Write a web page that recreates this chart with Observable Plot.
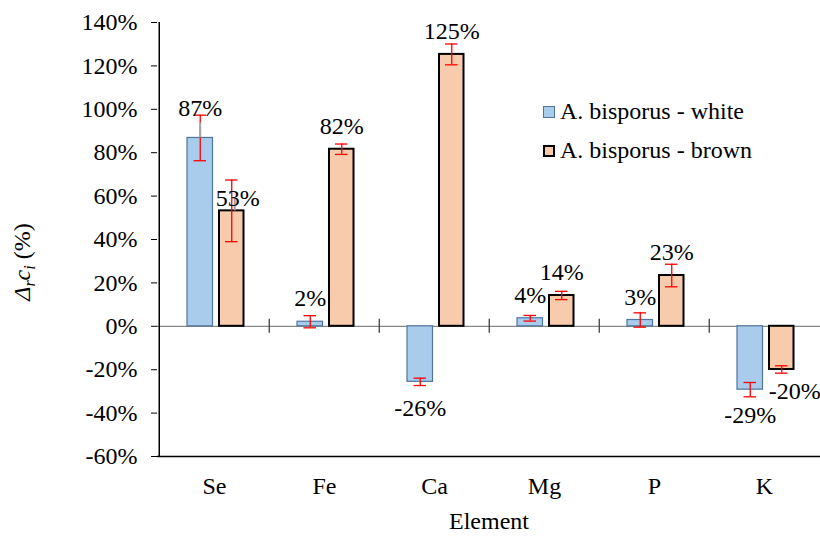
<!DOCTYPE html>
<html><head><meta charset="utf-8">
<script src="https://cdn.jsdelivr.net/npm/d3@7"></script>
<script src="https://cdn.jsdelivr.net/npm/@observablehq/plot@0.6"></script>
<style>
body{margin:0;background:#fff;}
#wrap{position:relative;width:820px;height:537px;overflow:hidden;}
#wrap svg text, .legend{font-family:"Liberation Serif","Times New Roman",Times,"DejaVu Serif",serif !important;}
.legend{position:absolute;left:543px;top:92px;font-size:24px;color:#000;}
.row{display:flex;align-items:center;height:39px;}
.sw{width:12px;height:12px;margin-right:5px;box-sizing:border-box;}
</style></head><body><div id="wrap"></div>
<script>
// ---- data ----
const elements = ["Se", "Fe", "Ca", "Mg", "P", "K"];
const series = ["A. bisporus - white", "A. bisporus - brown"];
const whiteValues = [86.8, 2.1, -25.6, 3.7, 2.9, -29.2];
const brownValues = [53.2, 81.6, 125.3, 14.2, 23.4, -19.9];
const whiteErrors = [10.5, 2.8, 1.7, 1.3, 3.3, 3.3];
const brownErrors = [14.2, 2.4, 4.8, 1.9, 5.2, 1.7];
const yTicks = [-60, -40, -20, 0, 20, 40, 60, 80, 100, 120, 140];

// ---- layout / style ----
const W = 820, H = 537, mL = 157, mR = 0, mT = 22, mB = 81;
const bw = (W - mL - mR) / elements.length;
const FONT = "Liberation Serif, Times New Roman, DejaVu Serif, serif";
const geom = { // bar placement inside each band (px)
  [series[0]]: {l: 28, r: 54, fill: "#A9CBEC", stroke: "#4F76A0", sw: 1.2},
  [series[1]]: {l: 60, r: 85, fill: "#F8CBAD", stroke: "#000000", sw: 2}
};
const capW = 13;
const nudge = { // manual label nudges (px) + leader line length, like the hand-placed labels
  ["Se|" + series[0]]: {dx: 0, dy: -7, leader: 15, ldx: 0},
  ["Se|" + series[1]]: {dx: 6, dy: 10, leader: 12, ldx: 3},
  ["K|" + series[1]]: {dx: 13, dy: -4}
};

const rows = [];
elements.forEach((el, i) => {
  rows.push({el, s: series[0], v: whiteValues[i], e: whiteErrors[i]});
  rows.push({el, s: series[1], v: brownValues[i], e: brownErrors[i]});
});

function seriesMarks(s) {
  const g = geom[s];
  const d = rows.filter(r => r.s === s);
  const center = (g.l + g.r) / 2;
  const dx = center - bw / 2;
  const capL = center - capW / 2, capR = bw - (center + capW / 2);
  const nd = r => nudge[r.el + "|" + r.s] || {dx: 0, dy: 0};
  const leaders = d.filter(r => nd(r).leader);
  return [
    Plot.barY(d, {x: "el", y: "v", fill: g.fill, stroke: g.stroke, strokeWidth: g.sw,
      insetLeft: g.l, insetRight: bw - g.r}),
    Plot.ruleX(d, {x: "el", y1: r => r.v - r.e, y2: r => r.v + r.e, dx, stroke: "#FF0000", strokeWidth: 1.3}),
    Plot.tickY(d, {x: "el", y: r => r.v + r.e, stroke: "#FF0000", strokeWidth: 1.3, insetLeft: capL, insetRight: capR}),
    Plot.tickY(d, {x: "el", y: r => r.v - r.e, stroke: "#FF0000", strokeWidth: 1.3, insetLeft: capL, insetRight: capR}),
    ...leaders.map(r => Plot.ruleX([r], {x: "el", y1: "v", y2: "v", insetTop: -nd(r).leader, insetBottom: 0,
      dx: dx + nd(r).ldx, stroke: "#A6A6A6", strokeWidth: 2})),
    ...d.map(r => Plot.text([r], {x: "el", y: "v", text: q => Math.round(q.v) + "%",
      dx: dx + nd(r).dx, dy: (r.v >= 0 ? -23 : 26) + nd(r).dy, fill: "#000", fontFamily: FONT}))
  ];
}

const chart = Plot.plot({
  width: W, height: H, marginLeft: mL, marginRight: mR, marginTop: mT, marginBottom: mB,
  style: {fontFamily: FONT, fontSize: "24px", color: "#000", background: "#fff", overflow: "visible"},
  x: {domain: elements, padding: 0, label: null, tickSize: 0, tickPadding: 20},
  y: {domain: [-60, 140], ticks: yTicks, tickFormat: d => d + "%", tickSize: 6, tickPadding: 14, label: null},
  marks: [
    Plot.ruleY([0], {stroke: "#888888", strokeWidth: 1.3}),
    Plot.ruleX(elements.slice(1), {x: d => d, y1: 0, y2: 0, insetTop: -7, insetBottom: -7, dx: -bw / 2, stroke: "#404040", strokeWidth: 1.3}),
    ...seriesMarks(series[0]),
    ...seriesMarks(series[1]),
    Plot.ruleY([-60], {stroke: "#000", strokeWidth: 1.5}),
    Plot.ruleX([elements[0]], {x: d => d, dx: -bw / 2, stroke: "#000", strokeWidth: 1.5}),
    Plot.text(["Element"], {frameAnchor: "bottom", dy: 72, fill: "#000", fontFamily: FONT})
  ]
});

document.getElementById("wrap").appendChild(chart);

// y-axis title with italic / subscript parts
const svg = d3.select(chart);
const t = svg.append("text")
  .attr("transform", "translate(30,262) rotate(-90)")
  .attr("text-anchor", "middle")
  .attr("font-family", FONT)
  .attr("font-size", 24)
  .attr("fill", "#000");
t.append("tspan").attr("font-style", "italic").text("Δ");
t.append("tspan").attr("font-style", "italic").attr("font-size", 16).attr("dy", 5).text("r");
t.append("tspan").attr("font-style", "italic").attr("dy", -5).text("c");
t.append("tspan").attr("font-style", "italic").attr("font-size", 16).attr("dy", 5).text("i");
t.append("tspan").attr("dy", -5).text(" (%)");

// legend
const leg = d3.select("#wrap").append("div").attr("class", "legend");
series.forEach(s => {
  const row = leg.append("div").attr("class", "row");
  row.append("div").attr("class", "sw")
    .style("background", geom[s].fill)
    .style("border", `${s === series[0] ? 1 : 2}px solid ${geom[s].stroke}`);
  row.append("span").text(s);
});
</script>
</body></html>
